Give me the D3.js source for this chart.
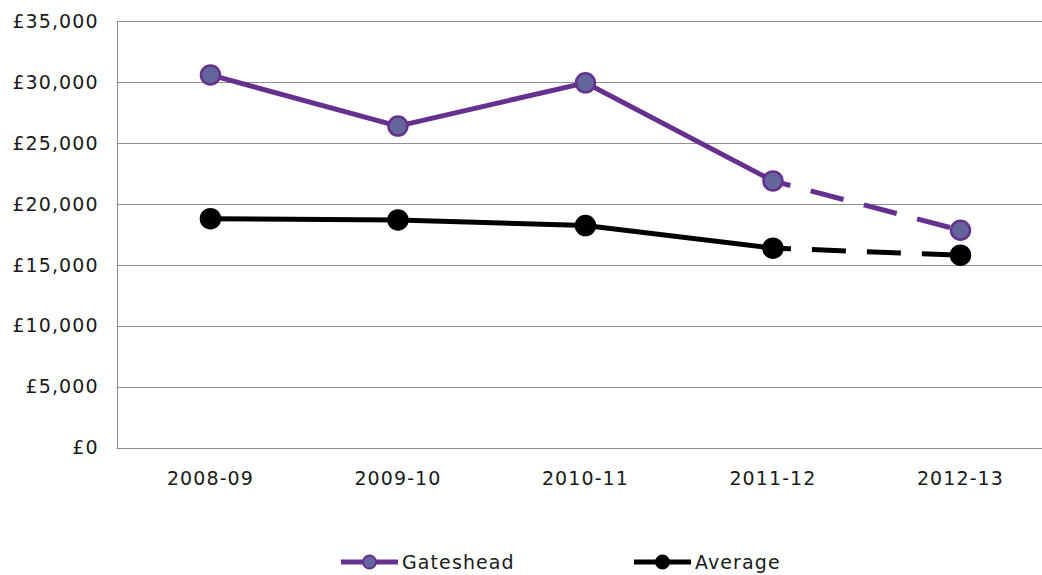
<!DOCTYPE html>
<html><head><meta charset="utf-8">
<script src="https://cdn.jsdelivr.net/npm/d3@7"></script>
<style>
html,body{margin:0;padding:0;background:#fff;}
svg{display:block;}
text{font-family:"DejaVu Sans",Verdana,sans-serif;fill:#1a1a1a;letter-spacing:1.1px;}
</style></head><body>
<svg id="chart" width="1042" height="575"></svg>
<script>
const categories = ["2008-09","2009-10","2010-11","2011-12","2012-13"];
const gateshead = [30600, 26400, 29950, 21900, 17850];
const average = [18800, 18700, 18230, 16380, 15800];
const yTicks = [0,5000,10000,15000,20000,25000,30000,35000];
const seriesNames = ["Gateshead","Average"];

(function(){
const svg = d3.select("#chart");
const left = 116.7, plotTop = 21.3, bottom = 447.7;
const band = 187.5;
const x = d3.scaleBand().domain(categories).range([left, left + band*categories.length]).paddingInner(0).paddingOuter(0);
const y = d3.scaleLinear().domain([0,35000]).range([bottom, plotTop]);
const fmt = v => "£" + d3.format(",")(v);

// gridlines
const g = svg.append("g");
g.selectAll("line.grid").data(yTicks).enter().append("line")
  .attr("x1", left).attr("x2", 1042)
  .attr("y1", d => Math.round(y(d))+0.5).attr("y2", d => Math.round(y(d))+0.5)
  .attr("stroke", "#8f8f8f").attr("stroke-width", 1);
// left axis line
g.append("line").attr("x1", Math.round(left)+0.5).attr("x2", Math.round(left)+0.5)
  .attr("y1", Math.round(plotTop)+0.5).attr("y2", Math.round(bottom)+0.5)
  .attr("stroke", "#8f8f8f");

// y axis labels
const yAxis = d3.axisLeft(y).tickValues(yTicks).tickFormat(fmt).tickSize(0).tickPadding(18);
const ya = svg.append("g").attr("transform", `translate(${left},0)`).call(yAxis);
ya.select(".domain").remove();
ya.selectAll("text").style("font-family","DejaVu Sans").style("font-size","19px").attr("fill","#1a1a1a");

// x axis labels
const xAxis = d3.axisBottom(x).tickSize(0).tickPadding(24);
const xa = svg.append("g").attr("transform", `translate(0,${bottom})`).call(xAxis);
xa.select(".domain").remove();
xa.selectAll("text").style("font-family","DejaVu Sans").style("font-size","19px").attr("fill","#1a1a1a");

const cx = c => x(c) + x.bandwidth()/2;
const purple = "#66308f", purpleFill = "#64659a";

function drawSeries(vals, color, width, fill, strokeMarker, r) {
  const pts = categories.map((c,i)=>[cx(c), y(vals[i])]);
  const line = d3.line();
  svg.append("path").attr("d", line(pts.slice(0,4))).attr("fill","none")
    .attr("stroke", color).attr("stroke-width", width).attr("stroke-linejoin","round");
  svg.append("path").attr("d", line(pts.slice(3,5))).attr("fill","none")
    .attr("stroke", color).attr("stroke-width", width)
    .attr("stroke-dasharray","34,21").attr("stroke-dashoffset", 16);
  svg.append("g").selectAll("circle").data(pts).enter().append("circle")
    .attr("cx", d=>d[0]).attr("cy", d=>d[1]).attr("r", r)
    .attr("fill", fill).attr("stroke", strokeMarker).attr("stroke-width", 2.5);
}
drawSeries(average, "#000", 5, "#000", "#000", 9.5);
drawSeries(gateshead, purple, 5, purpleFill, purple, 9.5);

// legend
const leg = svg.append("g");
const legItems = [
  {name: seriesNames[0], x0: 341, color: purple, fill: purpleFill},
  {name: seriesNames[1], x0: 634, color: "#000", fill: "#000"}
];
const ly = 562;
legItems.forEach(it => {
  leg.append("line").attr("x1", it.x0).attr("x2", it.x0+57).attr("y1", ly).attr("y2", ly)
    .attr("stroke", it.color).attr("stroke-width", 5);
  leg.append("circle").attr("cx", it.x0+28.5).attr("cy", ly).attr("r", 6.5)
    .attr("fill", it.fill).attr("stroke", it.color).attr("stroke-width", 2);
  leg.append("text").attr("x", it.x0+61).attr("y", ly).attr("dy","0.35em")
    .style("font-size","19px").text(it.name);
});
})();
</script></body></html>
